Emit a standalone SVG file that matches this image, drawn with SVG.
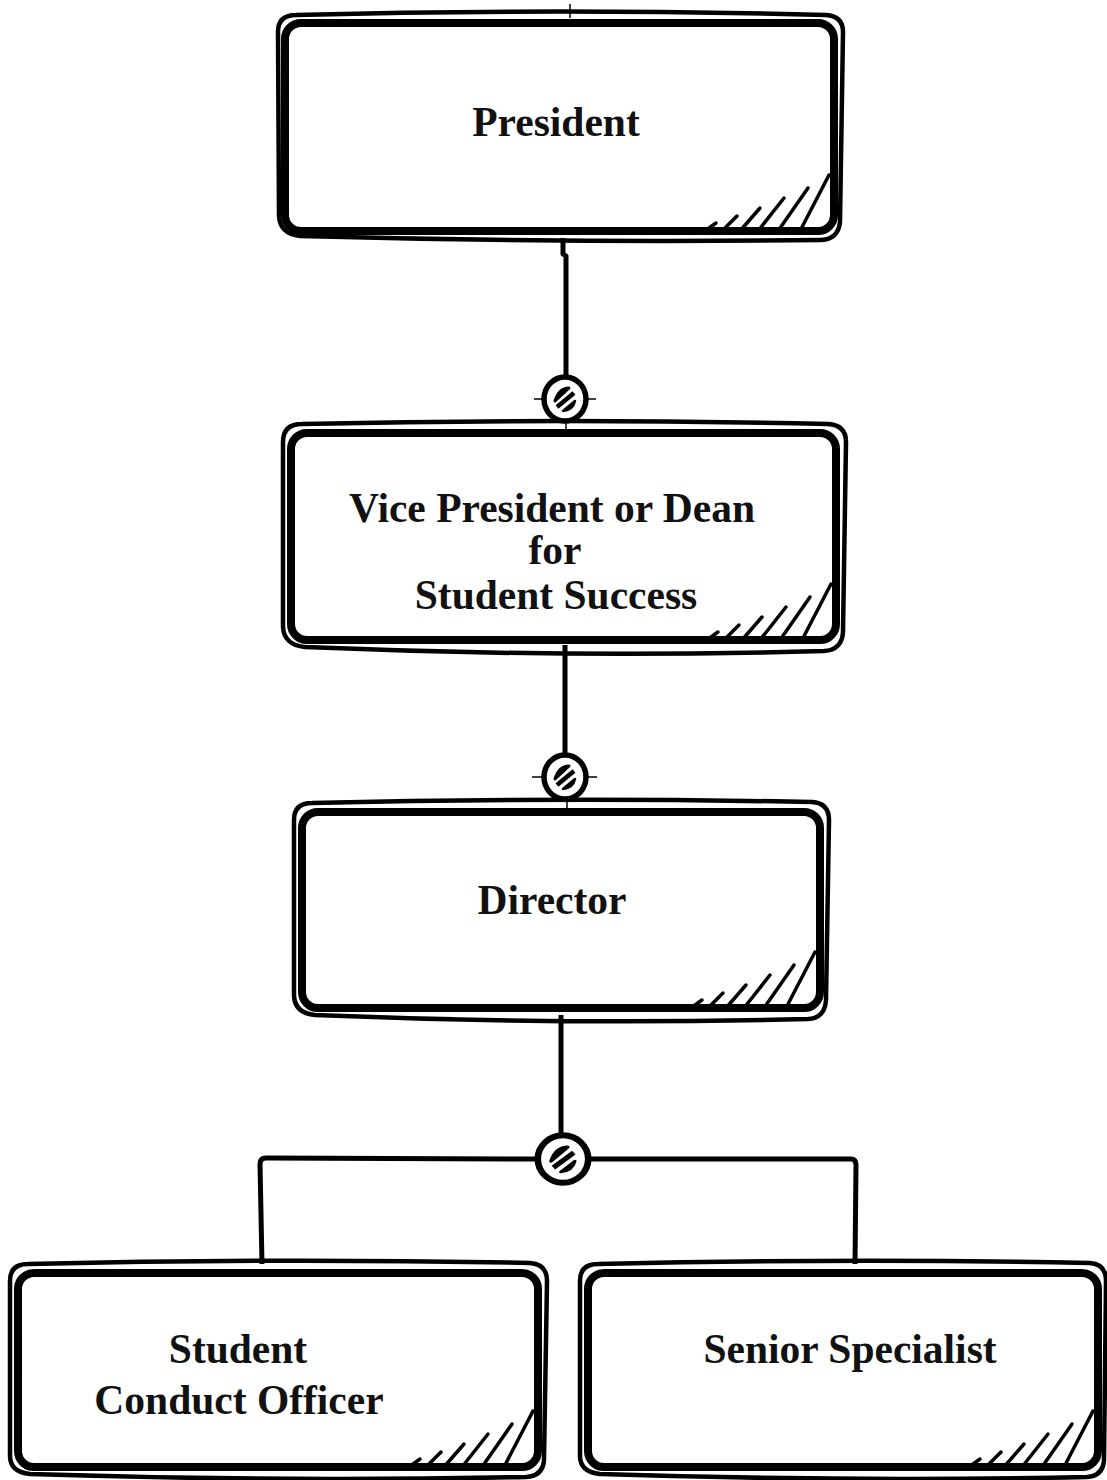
<svg xmlns="http://www.w3.org/2000/svg" xmlns:xlink="http://www.w3.org/1999/xlink" width="1107" height="1480" viewBox="0 0 1107 1480">
<style>
.main{fill:#fff;stroke:#000;stroke-width:8;stroke-linejoin:round}
.sec{fill:none;stroke:#000;stroke-width:4.5;stroke-linejoin:round}
.lbl{font-family:"Liberation Serif","Times New Roman",serif;font-weight:bold;font-size:41.5px;fill:#111;text-anchor:middle}
.wire{fill:none;stroke:#000;stroke-width:5;stroke-linecap:butt;stroke-linejoin:round}
.thin{fill:none;stroke:#000;stroke-width:1.5}
.hat{stroke:#000;stroke-width:3.5;stroke-linecap:round}
</style>
<defs>
<g id="hatch">
<line class="hat" x1="-129" y1="0" x2="-118" y2="-8"/>
<line class="hat" x1="-112" y1="0" x2="-97" y2="-15"/>
<line class="hat" x1="-94" y1="0" x2="-74" y2="-23"/>
<line class="hat" x1="-76" y1="0" x2="-50" y2="-33"/>
<line class="hat" x1="-56" y1="0" x2="-26" y2="-43"/>
<line class="hat" x1="-34" y1="0" x2="-5" y2="-56"/>
</g>
<g id="hub">
<ellipse cx="0" cy="0" rx="21" ry="22" fill="#fff" stroke="#000" stroke-width="5.5"/>
<path d="M-10,2 L4,-11 Q-6,-11 -10,2 Z" fill="#000" stroke="#000" stroke-width="3" stroke-linejoin="round"/>
<line x1="-8" y1="8" x2="9" y2="-6" stroke="#000" stroke-width="4.5"/>
<path d="M-2,12 L10,2 Q8,11 -2,12 Z" fill="#000" stroke="#000" stroke-width="2.5" stroke-linejoin="round"/>
</g>
</defs>
<g id="connectors">
<line class="thin" x1="570" y1="4" x2="570" y2="18"/>
<path class="wire" d="M563,238 L563,254 L566,256 L566,377"/>
<line class="thin" x1="566" y1="421" x2="566" y2="430"/>
<line class="thin" x1="534" y1="399" x2="543" y2="399"/>
<line class="thin" x1="587" y1="399" x2="596" y2="399"/>
<use xlink:href="#hub" x="565" y="399"/>
<path class="wire" d="M565,645 L565,755"/>
<line class="thin" x1="567" y1="799" x2="567" y2="808"/>
<line class="thin" x1="532" y1="777" x2="543" y2="777"/>
<line class="thin" x1="587" y1="777" x2="597" y2="777"/>
<use xlink:href="#hub" x="565" y="777"/>
<path class="wire" d="M561,1015 L561,1136"/>
<path class="wire" d="M537,1159 L266,1158 Q260,1158 260,1164 L262,1264"/>
<path class="wire" d="M591,1159 L851,1159 Q856,1159 856,1165 L855,1264"/>
<g transform="translate(563,1159) scale(1.2,1.08)"><use xlink:href="#hub"/></g>
</g>
<g id="president">
<path class="sec" d="M296,15 Q560,8 826,15 Q843,16 843,32 L840,222 Q838,240 820,240 Q560,243 300,236 Q280,234 279,216 L278,32 Q278,15 296,15 Z"/>
<rect class="main" x="285" y="23" width="549" height="208" rx="16"/>
<use xlink:href="#hatch" x="834" y="231"/>
<text class="lbl" x="556" y="136">President</text>
</g>
<g id="vp">
<path class="sec" d="M302,424 Q565,418 828,424 Q846,425 846,442 L843,632 Q842,650 824,651 Q565,658 305,647 Q284,645 283,627 L283,442 Q283,424 302,424 Z"/>
<rect class="main" x="291" y="433" width="545" height="207" rx="16"/>
<use xlink:href="#hatch" x="836" y="640"/>
<text class="lbl" x="552" y="522">Vice President or Dean</text>
<text class="lbl" x="555" y="564">for</text>
<text class="lbl" x="556" y="609">Student Success</text>
</g>
<g id="director">
<path class="sec" d="M312,803 Q560,797 812,802 Q829,803 829,820 L826,1000 Q825,1018 808,1019 Q560,1025 315,1015 Q295,1013 294,996 L294,820 Q294,803 312,803 Z"/>
<rect class="main" x="302" y="812" width="518" height="196" rx="16"/>
<use xlink:href="#hatch" x="820" y="1008"/>
<text class="lbl" x="552" y="914">Director</text>
</g>
<g id="sco">
<path class="sec" d="M28,1264 Q280,1258 530,1263 Q547,1264 547,1281 L544,1460 Q543,1476 526,1477 Q280,1482 30,1474 Q10,1472 10,1456 L10,1281 Q10,1264 28,1264 Z"/>
<rect class="main" x="18" y="1273" width="520" height="194" rx="16"/>
<use xlink:href="#hatch" x="538" y="1467"/>
<text class="lbl" x="238" y="1363">Student</text>
<text class="lbl" x="239" y="1414">Conduct Officer</text>
</g>
<g id="ss">
<path class="sec" d="M598,1264 Q850,1258 1090,1263 Q1106,1264 1106,1281 L1104,1460 Q1103,1476 1087,1477 Q850,1482 600,1474 Q580,1472 580,1456 L580,1281 Q580,1264 598,1264 Z"/>
<rect class="main" x="588" y="1273" width="510" height="194" rx="16"/>
<use xlink:href="#hatch" x="1098" y="1467"/>
<text class="lbl" x="850" y="1363">Senior Specialist</text>
</g>
</svg>
